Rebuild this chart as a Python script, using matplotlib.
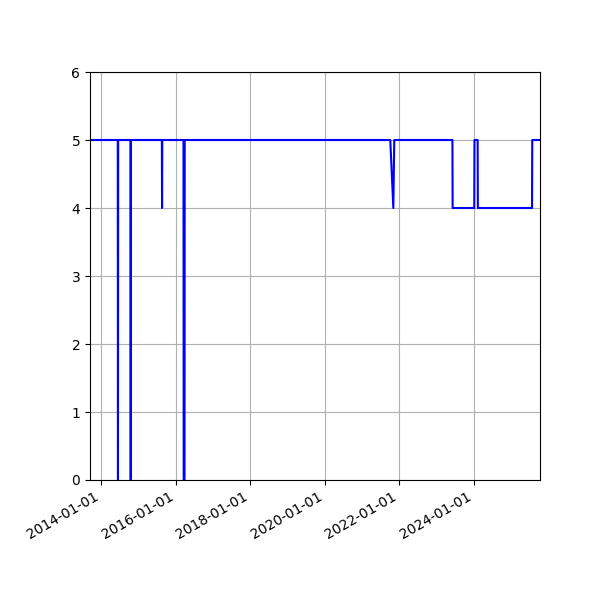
import datetime as dt
import matplotlib
matplotlib.use("Agg")
import matplotlib.pyplot as plt
import matplotlib.dates as mdates

# rating history (dates where the value changes)
dates = [
    "2013-09-01", "2014-06-14", "2014-06-16", "2014-06-18",
    "2014-10-17", "2014-10-19", "2014-10-21",
    "2015-08-20", "2015-08-22", "2015-08-24",
    "2016-03-19", "2016-03-21", "2016-03-29", "2016-03-31",
    "2021-10-05", "2021-11-04", "2021-11-13",
    "2023-06-06", "2023-06-08",
    "2024-01-06", "2024-01-08", "2024-02-08", "2024-02-10",
    "2025-07-25", "2025-07-27", "2025-11-01",
]
values = [
    5, 5, 0, 5,
    5, 0, 5,
    5, 4, 5,
    5, 0, 0, 5,
    5, 4, 5,
    5, 4,
    4, 5, 5, 4,
    4, 5, 5,
]

x = [dt.datetime.strptime(d, "%Y-%m-%d") for d in dates]

fig, ax = plt.subplots(figsize=(6, 6), dpi=100)
ax.plot(x, values, color="blue")

ax.set_xlim(dt.datetime(2013, 9, 15), dt.datetime(2025, 10, 11))
ax.set_ylim(0, 6)
ax.xaxis.set_major_locator(mdates.YearLocator(2))
ax.xaxis.set_major_formatter(mdates.DateFormatter("%Y-%m-%d"))
ax.grid(True)
fig.autofmt_xdate()
fig.subplots_adjust(left=0.15, right=0.9, top=0.88, bottom=0.2)

fig.savefig("out.png")
